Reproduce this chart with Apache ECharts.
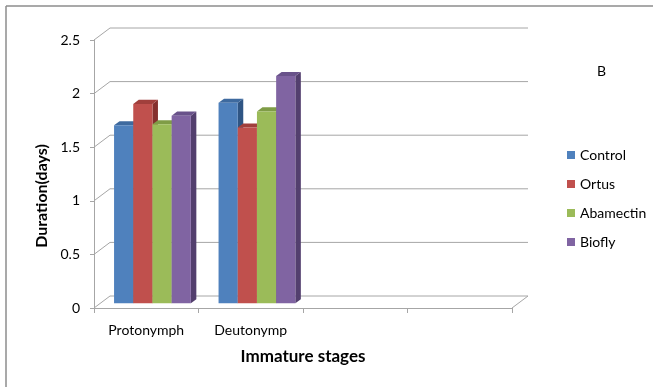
<!DOCTYPE html>
<html>
<head>
<meta charset="utf-8">
<script src="https://cdn.jsdelivr.net/npm/echarts@6/dist/echarts.min.js"></script>
<style>
  html, body { margin: 0; padding: 0; background: #ffffff; }
  #chart { width: 653px; height: 387px; }
</style>
</head>
<body>
<div id="chart"></div>
<script>
// Duration of immature stages per treatment
const categories = ['Protonymph', 'Deutonymp', '', ''];
const treatments = ['Control', 'Ortus', 'Abamectin', 'Biofly'];
const control   = [1.66, 1.87];
const ortus     = [1.86, 1.64];
const abamectin = [1.67, 1.79];
const biofly    = [1.75, 2.12];
const yTicks = [0, 0.5, 1, 1.5, 2, 2.5];

const seriesValues = [control, ortus, abamectin, biofly];
// face / top / side shades for the pseudo-3D columns
const faceColors = ['#4F81BD', '#C0504D', '#9BBB59', '#8064A2'];
const topColors  = ['#3E6A9F', '#A13F3C', '#7F9C46', '#69528A'];
const sideColors = ['#2F5584', '#85302E', '#667F36', '#533F6E'];

const FONT = 'Lato';
const WALL = [16, -12];      // depth offset of the back wall
const FRONT = [6.2, -4.7];   // columns sit part-way into the depth
const BAR_DEPTH = [5.5, -4.1];
const BAR_FRAC = 0.1837;     // column width as a share of a category band
const LINE = '#A6A6A6';

function columnRenderer(idx) {
  return function (params, api) {
    const cat = api.value(0), val = api.value(1);
    const base = api.coord([cat, 0]);
    const top = api.coord([cat, val]);
    const band = api.size([1, 0])[0];
    const bw = band * BAR_FRAC;
    const x0 = base[0] - 2 * bw + idx * bw + FRONT[0];
    const x1 = x0 + bw;
    const yb = base[1] + FRONT[1];
    const yt = top[1] + FRONT[1];
    const dx = BAR_DEPTH[0], dy = BAR_DEPTH[1];
    return {
      type: 'group',
      children: [
        { type: 'polygon', shape: { points: [[x1, yb], [x1 + dx, yb + dy], [x1 + dx, yt + dy], [x1, yt]] },
          style: { fill: sideColors[idx] } },
        { type: 'polygon', shape: { points: [[x0, yt], [x1, yt], [x1 + dx, yt + dy], [x0 + dx, yt + dy]] },
          style: { fill: topColors[idx] } },
        { type: 'rect', shape: { x: x0, y: yt, width: bw, height: yb - yt },
          style: { fill: faceColors[idx] } }
      ]
    };
  };
}

// back wall gridlines with the diagonal returns to the value axis
function wallRenderer(params, api) {
  const v = api.value(1);
  const cs = params.coordSys;
  const y = api.coord([0, v])[1];
  const xl = cs.x, xr = cs.x + cs.width;
  const children = [
    { type: 'polyline', shape: { points: [[xl, y], [xl + WALL[0], y + WALL[1]], [xr + WALL[0], y + WALL[1]]] },
      style: { stroke: LINE, lineWidth: 1, fill: null } }
  ];
  if (v === 0) {
    children.push({ type: 'line', shape: { x1: xr, y1: y, x2: xr + WALL[0], y2: y + WALL[1] },
      style: { stroke: LINE, lineWidth: 1 } });
  }
  return { type: 'group', children: children };
}

const series = [{
  type: 'custom',
  name: 'wall',
  silent: true,
  clip: false,
  z: 1,
  renderItem: wallRenderer,
  data: yTicks.map(v => [0, v])
}];
treatments.forEach((name, i) => {
  series.push({
    type: 'custom',
    name: name,
    clip: false,
    z: 2,
    itemStyle: { color: faceColors[i] },
    renderItem: columnRenderer(i),
    data: seriesValues[i].map((v, c) => [c, v])
  });
});

const chart = echarts.init(document.getElementById('chart'), null, { renderer: 'canvas' });
chart.setOption({
  animation: false,
  backgroundColor: '#ffffff',
  textStyle: { fontFamily: FONT },
  grid: { left: 94, top: 40, width: 418, height: 268 },
  legend: {
    data: treatments,
    orient: 'vertical',
    left: 562,
    top: 143,
    icon: 'rect',
    itemWidth: 8,
    itemHeight: 8,
    itemGap: 15,
    textStyle: { fontFamily: FONT, fontSize: 14, color: '#000' }
  },
  xAxis: {
    type: 'category',
    data: categories,
    boundaryGap: true,
    axisLine: { show: true, lineStyle: { color: LINE, width: 1 } },
    axisTick: { show: true, length: 5, lineStyle: { color: LINE } },
    axisLabel: { interval: 0, margin: 15, fontFamily: FONT, fontSize: 14, color: '#000' },
    splitLine: { show: false },
    name: 'Immature stages',
    nameLocation: 'middle',
    nameGap: 40,
    nameTextStyle: { fontFamily: FONT, fontSize: 17, fontWeight: 'bold', color: '#000' }
  },
  yAxis: {
    type: 'value',
    min: 0,
    max: 2.5,
    interval: 0.5,
    axisLine: { show: true, lineStyle: { color: LINE, width: 1 } },
    axisTick: { show: true, length: 4, lineStyle: { color: LINE } },
    axisLabel: { margin: 14, fontFamily: FONT, fontSize: 14, color: '#000' },
    splitLine: { show: false },
    name: 'Duration(days)',
    nameLocation: 'middle',
    nameGap: 40,
    nameTextStyle: { fontFamily: FONT, fontSize: 16, fontWeight: 'bold', color: '#000', padding: [0, 44, 0, 0] }
  },
  graphic: [
    { type: 'line', shape: { x1: 6, y1: 6, x2: 653, y2: 6 }, style: { stroke: '#8C8C8C', lineWidth: 1.5 } },
    { type: 'line', shape: { x1: 6, y1: 6, x2: 6, y2: 387 }, style: { stroke: '#8C8C8C', lineWidth: 1.5 } },
    { type: 'text', left: 597, top: 64, style: { text: 'B', fontFamily: FONT, fontSize: 14, fill: '#000' } }
  ],
  series: series
});
</script>
</body>
</html>
